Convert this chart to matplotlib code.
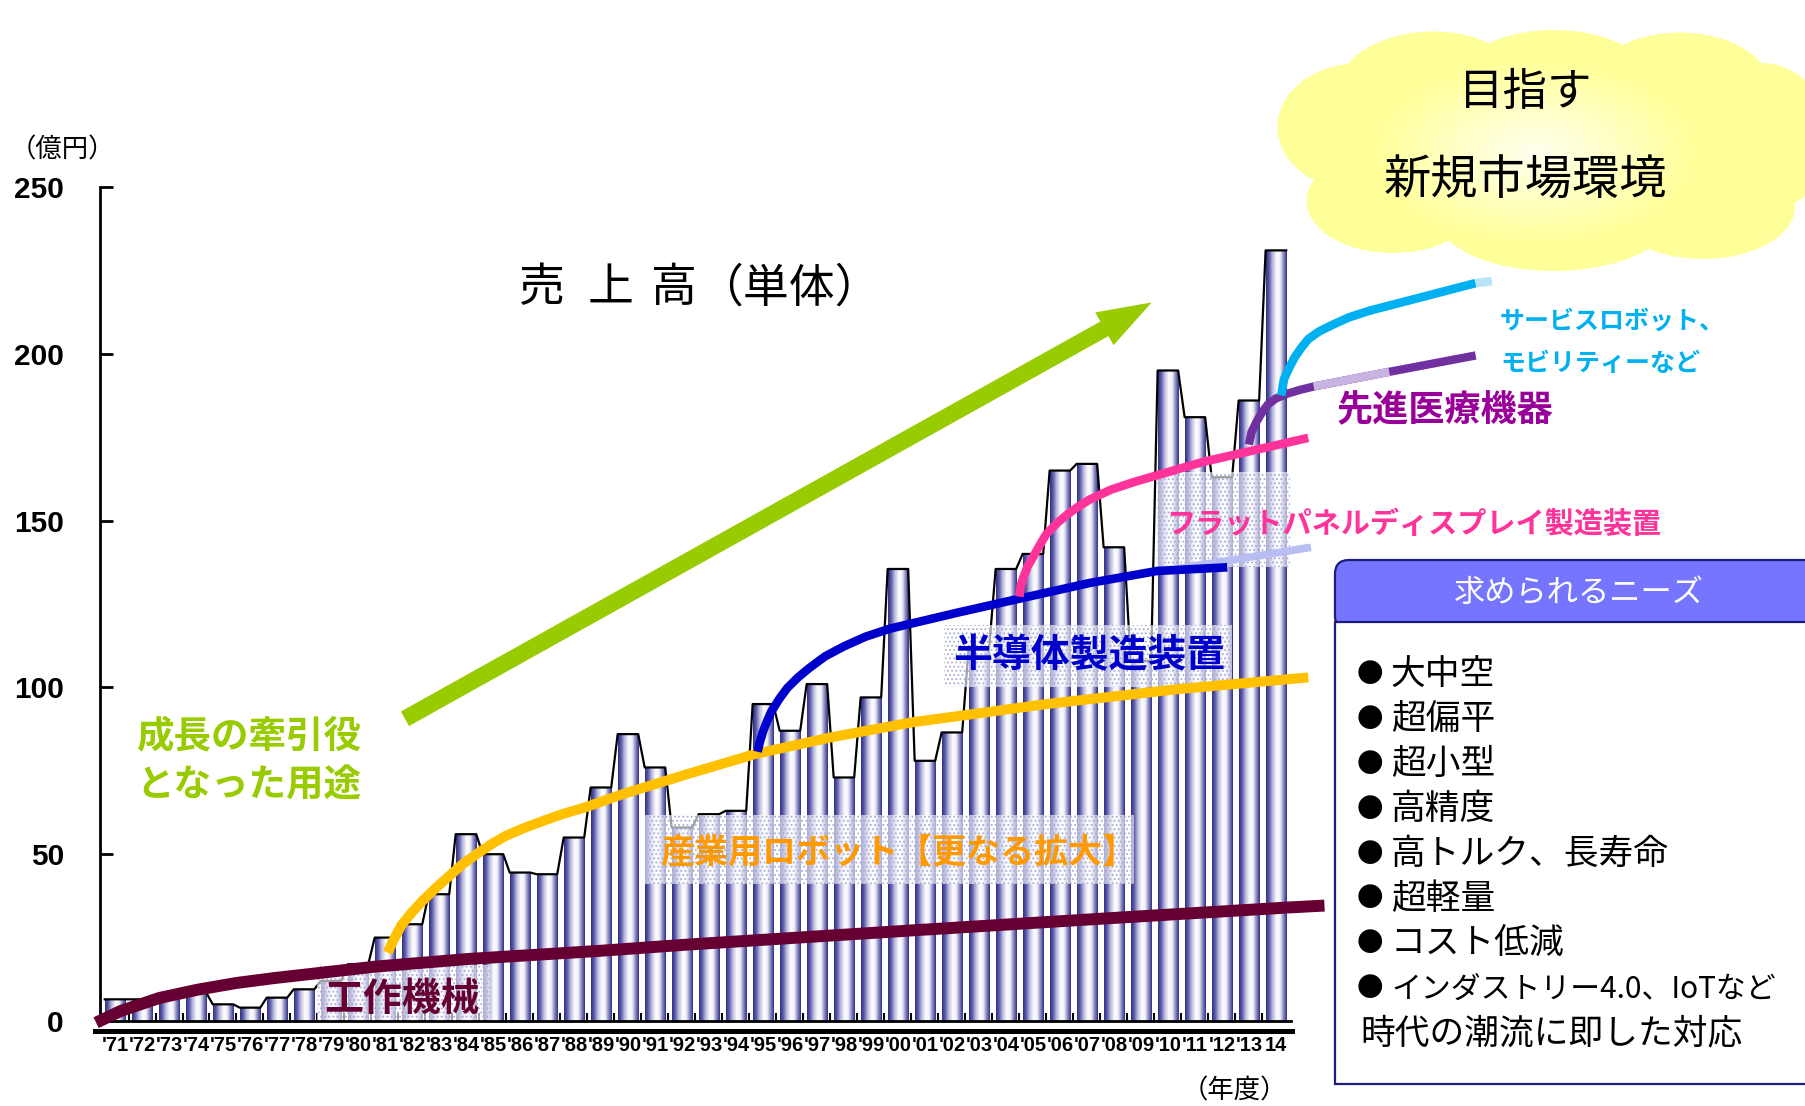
import numpy as np
import matplotlib
matplotlib.use("Agg")
import matplotlib.pyplot as plt
from matplotlib.colors import LinearSegmentedColormap
from matplotlib.patches import Rectangle, Ellipse, FancyBboxPatch

plt.rcParams['font.family'] = ['Noto Sans CJK JP', 'DejaVu Sans']
plt.rcParams['hatch.linewidth'] = 0.8

# fiscal years and sales (100 million yen)
years = ["'71", "'72", "'73", "'74", "'75", "'76", "'77", "'78", "'79", "'80",
         "'81", "'82", "'83", "'84", "'85", "'86", "'87", "'88", "'89", "'90",
         "'91", "'92", "'93", "'94", "'95", "'96", "'97", "'98", "'99", "'00",
         "'01", "'02", "'03", "'04", "'05", "'06", "'07", "'08", "'09", "'10",
         "'11", "'12", "'13", "14"]
sales = [6.5, 6.5, 8, 8.5, 5, 4, 7, 9.5, 12, 17,
         25, 29, 38, 56, 50, 44.5, 44, 55, 70, 86,
         76, 58, 62, 63, 95, 87, 101, 73, 97, 135.5,
         78, 86.5, 112, 135.5, 140, 165, 167, 142, 108, 195,
         181, 163, 186, 231]

# trend curves, x = bar index ('71 = 0), y = value
machine_x = [-0.7, 0.21, 1.64, 3.07, 4.5, 5.93, 7.36, 9.64, 13.1, 17.9, 21.2, 30.0, 37.0, 43.4, 44.8]
machine_y = [-0.5, 3.0, 6.9, 9.4, 11.4, 12.9, 14.2, 16.3, 18.6, 21.0, 22.9, 27.4, 30.9, 34.0, 34.6]
robot_x = [10.1, 10.3, 10.6, 11.0, 11.4, 11.9, 12.4, 12.9, 13.5, 14.0, 14.5, 15.2, 15.9, 16.6, 17.4,
           18.8, 21.2, 23.7, 26.5, 29.5, 34.5, 39.4, 44.2]
robot_y = [20.5, 24.0, 28.6, 32.6, 36.1, 40.0, 43.6, 47.2, 50.6, 53.3, 55.6, 58.0, 60.1, 62.1, 64.0,
           68.0, 74.0, 80.0, 85.0, 89.5, 95.0, 99.5, 103.0]
semi_x = [23.8, 23.9, 24.0, 24.15, 24.3, 24.6, 24.9, 25.3, 25.7, 26.3, 27.0, 27.8, 28.7, 31.2, 33.5, 36.1, 38.6, 41.2]
semi_y = [80.7, 84.0, 86.7, 89.8, 92.6, 96.5, 99.8, 103.0, 105.7, 109.3, 112.3, 115.2, 117.6, 122.4, 126.6, 131.3, 134.9, 136.0]
semi_pale_x = [39.3, 44.3]
semi_pale_y = [135.5, 142.0]
fpd_x = [33.5, 33.55, 33.65, 33.8, 34.0, 34.25, 34.5, 34.9, 35.3, 35.7, 36.1, 36.9, 37.8, 40.3, 44.2]
fpd_y = [127.2, 130.5, 133.1, 136.2, 139.0, 142.6, 146.0, 149.3, 152.0, 154.3, 156.3, 159.3, 161.7, 167.6, 174.8]
medical_x = [42.0, 42.1, 42.3, 42.5, 42.7, 43.0, 43.4, 43.9, 44.4, 47.2, 50.4]
medical_y = [172.8, 176.6, 179.9, 182.6, 184.8, 186.6, 188.0, 189.2, 190.2, 194.6, 199.5]
service_x = [43.2, 43.25, 43.3, 43.5, 43.7, 43.95, 44.2, 44.6, 45.1, 45.7, 46.5, 48.6, 50.4, 51.0]
service_y = [187.5, 190.0, 192.4, 195.9, 199.0, 201.9, 204.4, 206.7, 208.7, 210.9, 213.0, 217.4, 221.2, 221.8]
arrow_tail = (10.74, 90.6)
arrow_tip = (38.4, 215.4)

needs = ['大中空', '超偏平', '超小型', '高精度', '高トルク、長寿命',
         '超軽量', 'コスト低減', 'インダストリー4.0、IoTなど']
needs_note = '時代の潮流に即した対応'

W, H = 1805, 1106
fig = plt.figure(figsize=(W / 100, H / 100), dpi=100)
ax = fig.add_axes([100 / W, 1 - 1021 / H, (1291 - 100) / W, (1021 - 187) / H])
ov = fig.add_axes([0, 0, 1, 1], zorder=5)

# bars with a cylinder-like gradient
bar_cmap = LinearSegmentedColormap.from_list(
    'cyl', [(0, '#30308a'), (0.14, '#5a5aa8'), (0.32, '#bcbce0'), (0.52, '#ffffff'),
            (0.68, '#f0f0f8'), (0.86, '#8080bc'), (1, '#30308a')])
grad = np.linspace(0, 1, 64).reshape(1, -1)
x = np.arange(len(sales))
bw = 0.76
for xi, h in zip(x, sales):
    ax.imshow(grad, extent=(xi - bw / 2, xi + bw / 2, 0, h), aspect='auto',
              cmap=bar_cmap, interpolation='bilinear', zorder=2)
tx = np.column_stack([x - bw / 2, x + bw / 2]).ravel()
ty = np.repeat(sales, 2)
ax.plot(tx, ty, color='black', lw=1.6, zorder=3)


def glass_box(x0, y0, x1, y1):
    ax.add_patch(Rectangle((x0, y0), x1 - x0, y1 - y0, transform=ov.transData,
                           facecolor=(1, 1, 1, 0.62), edgecolor='#a8acd8', hatch='....',
                           lw=0, clip_on=False, zorder=4))


glass_box(317, 965, 490, 1020)
glass_box(645, 815, 1134, 884)
glass_box(944, 625, 1232, 687)
glass_box(1157, 472, 1290, 567)


def curve(xs, ys, color, lw):
    ax.plot(xs, ys, color=color, lw=lw, solid_capstyle='butt', solid_joinstyle='round',
            clip_on=False, zorder=5)


curve(machine_x, machine_y, '#660033', 8.6)
curve(robot_x, robot_y, '#FFC000', 7.2)
curve(semi_pale_x, semi_pale_y, '#b8bef2', 5.5)
curve(semi_x, semi_y, '#0000CC', 6.2)
curve(fpd_x, fpd_y, '#FF3399', 6.2)
curve(medical_x, medical_y, '#7030A0', 6.0)
curve(medical_x[8:10], medical_y[8:10], '#c8b4e0', 6.0)
curve(service_x[:-1], service_y[:-1], '#00B0F0', 6.2)
curve(service_x[-2:], service_y[-2:], '#b8e4f8', 6.2)

ax.annotate('', xy=arrow_tip, xytext=arrow_tail, annotation_clip=False, zorder=5,
            arrowprops=dict(arrowstyle='simple,head_length=39,head_width=27,tail_width=12',
                            mutation_scale=1, fc='#99CC00', ec='none', shrinkA=0, shrinkB=0))

ax.set_xlim(-0.556, 43.56)
ax.set_ylim(0, 250)
for s in ['top', 'right']:
    ax.spines[s].set_visible(False)
ax.spines['left'].set_linewidth(2)
ax.spines['bottom'].set_linewidth(2)
ax.set_yticks(range(0, 251, 50))
ax.set_yticklabels([str(v) for v in range(0, 251, 50)], fontfamily='Liberation Sans',
                   fontweight='bold', fontsize=21.5)
ax.tick_params(axis='y', direction='in', length=9, width=2, pad=26)
ax.set_xticks(x)
ax.set_xticklabels(years, fontfamily='Liberation Sans', fontweight='bold', fontsize=14.5)
ax.set_xticks(x[:-1] + 0.5, minor=True)
ax.tick_params(axis='x', which='major', length=0, pad=11)
ax.tick_params(axis='x', which='minor', direction='in', length=6, width=1.5)

# overlay in reference pixel coordinates
ov.set_xlim(0, W)
ov.set_ylim(H, 0)
ov.axis('off')
ov.plot([95, 1292], [1031, 1031], color='black', lw=3.6)

# cloud
cloud_lobes = [(1358, 127, 161, 127), (1433, 95, 196, 127), (1554, 82, 196, 104),
               (1680, 90, 184, 115), (1761, 138, 138, 150), (1703, 207, 184, 104),
               (1554, 219, 230, 104), (1393, 201, 173, 104), (1542, 150, 391, 173)]
for cx, cy, w, h in cloud_lobes:
    ov.add_patch(Ellipse((cx, cy), w, h, facecolor='#FFFF99', edgecolor='none', zorder=1))
yy, xx = np.mgrid[-1:1:200j, -1:1:300j]
rr = np.sqrt(xx ** 2 + yy ** 2)
glow = np.ones((200, 300, 4))
glow[..., 3] = np.clip(1 - rr, 0, 1) * 0.85
ov.imshow(glow, extent=(1370, 1700, 245, 60), aspect='auto', interpolation='bilinear', zorder=2)
ov.text(1526, 92, '目指す', fontsize=32, ha='center', va='center', zorder=3)
ov.text(1525, 181, '新規市場環境', fontsize=34, ha='center', va='center', zorder=3)

# needs box
ov.add_patch(FancyBboxPatch((1335, 560), 520, 70, boxstyle='round,pad=0,rounding_size=14',
                            facecolor='#7575FF', edgecolor='#1c1c80', lw=1.6, zorder=1))
ov.add_patch(Rectangle((1335, 621.5), 520, 462.5, facecolor='white', edgecolor='#1c1c80',
                       lw=1.6, zorder=1))
ov.text(1579, 593, '求められるニーズ', fontsize=22.5, color='white', ha='center', va='center')
for k, item in enumerate(needs):
    yk = 674.5 + 44.9 * k
    ov.text(1357, yk, '●', fontsize=19, va='center')
    ov.text(1391, yk, item, fontsize=25 if len(item) < 10 else 21.5, va='center')
ov.text(1360, 674.5 + 44.9 * len(needs), needs_note, fontsize=25, va='center')

# texts
ov.text(10, 150, '（億円）', fontsize=19, va='center')
ov.text(1182, 1091, '（年度）', fontsize=19, va='center')
for s, px in [('売', 519), ('上', 588), ('高', 651), ('（単体）', 697)]:
    ov.text(px, 288, s, fontsize=33, va='center')
ov.text(136, 737, '成長の牽引役', fontsize=27, fontweight='bold', color='#99CC00', va='center')
ov.text(136, 785, 'となった用途', fontsize=27, fontweight='bold', color='#99CC00', va='center')
ov.text(324, 1000, '工作機械', fontsize=28, fontweight='bold', color='#660033', va='center')
ov.text(660, 852, '産業用ロボット【更なる拡大】', fontsize=24.5, fontweight='bold',
        color='#FF9900', va='center')
ov.text(953, 656, '半導体製造装置', fontsize=28, fontweight='bold', color='#0000CC', va='center')
ov.text(1166, 524, 'フラットパネルディスプレイ製造装置', fontsize=21, fontweight='bold',
        color='#FF3399', va='center')
ov.text(1337, 411, '先進医療機器', fontsize=26, fontweight='bold', color='#990099', va='center')
ov.text(1500, 322, 'サービスロボット、', fontsize=18, fontweight='bold', color='#00B0F0', va='center')
ov.text(1500, 364, 'モビリティーなど', fontsize=18, fontweight='bold', color='#00B0F0', va='center')

fig.savefig('out.png', dpi=100)
